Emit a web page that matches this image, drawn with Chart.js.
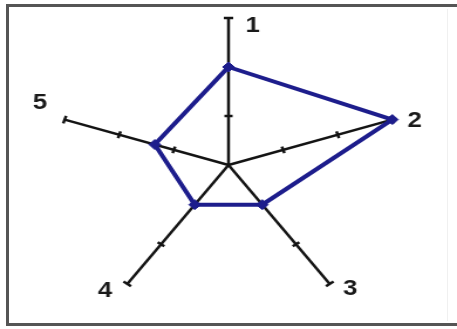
<!DOCTYPE html>
<html>
<head>
<meta charset="utf-8">
<script src="https://cdn.jsdelivr.net/npm/chart.js@4/dist/chart.umd.min.js"></script>
<style>
  html, body { margin: 0; padding: 0; background: #fff; width: 457px; height: 329px; overflow: hidden; }
  #frame { position: absolute; left: 6px; top: 4px; width: 470px; height: 316px;
           border: 3px solid #555; border-right: none; }
  #faint { position: absolute; left: 447px; top: 9px; width: 1px; height: 312px; background: #f0f0f0; }
  #wrap { position: absolute; left: 0; top: 0; width: 390px; height: 329px;
          transform: scaleX(1.1718); transform-origin: 0 0; }
</style>
</head>
<body>
<div id="frame"></div>
<div id="faint"></div>
<div id="wrap"><canvas id="c"></canvas></div>
<script>
const categories = ['1', '2', '3', '4', '5'];
const values = [2, 3, 1, 1, 1.35];
const tickValues = [1, 2, 3];
const scaleMin = 0;
const scaleMax = 3;

const axisColor = '#141414';
const seriesColor = '#1d1d8c';

const axisTicks = {
  id: 'axisTicks',
  beforeDatasetsDraw(chart) {
    const s = chart.scales.r;
    const ctx = chart.ctx;
    ctx.save();
    ctx.strokeStyle = axisColor;
    ctx.lineWidth = 2.5;
    for (let i = 0; i < categories.length; i++) {
      const a = s.getIndexAngle(i) - Math.PI / 2;
      const px = -Math.sin(a), py = Math.cos(a);
      tickValues.forEach(v => {
        const p = s.getPointPositionForValue(i, v);
        const h = v === scaleMax ? 4 : 3.5;
        ctx.beginPath();
        ctx.moveTo(p.x - px * h, p.y - py * h);
        ctx.lineTo(p.x + px * h, p.y + py * h);
        ctx.stroke();
      });
    }
    ctx.restore();
  }
};

const labelOffsets = [[20.5, 7], [19, 0.5], [17.5, 4.5], [-19, 6], [-21, -17.5]];
const axisLabels = {
  id: 'axisLabels',
  afterDraw(chart) {
    const s = chart.scales.r;
    const ctx = chart.ctx;
    ctx.save();
    ctx.fillStyle = '#1a1a1a';
    ctx.font = 'bold 22px "Liberation Sans", Arial, sans-serif';
    ctx.textAlign = 'center';
    ctx.textBaseline = 'middle';
    categories.forEach((lab, i) => {
      const p = s.getPointPosition(i, s.drawingArea);
      const o = labelOffsets[i];
      ctx.fillText(lab, p.x + o[0], p.y + o[1] + 1);
    });
    ctx.restore();
  }
};

new Chart(document.getElementById('c'), {
  type: 'radar',
  data: {
    labels: categories,
    datasets: [{
      data: values,
      borderColor: seriesColor,
      backgroundColor: seriesColor,
      borderWidth: 4,
      fill: false,
      pointStyle: 'rectRot',
      pointRadius: 5,
      pointBackgroundColor: seriesColor,
      pointBorderColor: seriesColor,
      pointBorderWidth: 1,
      tension: 0
    }]
  },
  options: {
    responsive: true,
    maintainAspectRatio: false,
    animation: false,
    events: [],
    layout: { padding: { left: 48, right: 48, top: 18, bottom: 17 } },
    plugins: { legend: { display: false }, tooltip: { enabled: false } },
    scales: {
      r: {
        min: scaleMin,
        max: scaleMax,
        startAngle: 0,
        ticks: { display: false, stepSize: 1 },
        grid: { display: false },
        angleLines: { display: true, color: axisColor, lineWidth: 2.5 },
        pointLabels: { display: false }
      }
    }
  },
  plugins: [axisTicks, axisLabels]
});
</script>
</body>
</html>
